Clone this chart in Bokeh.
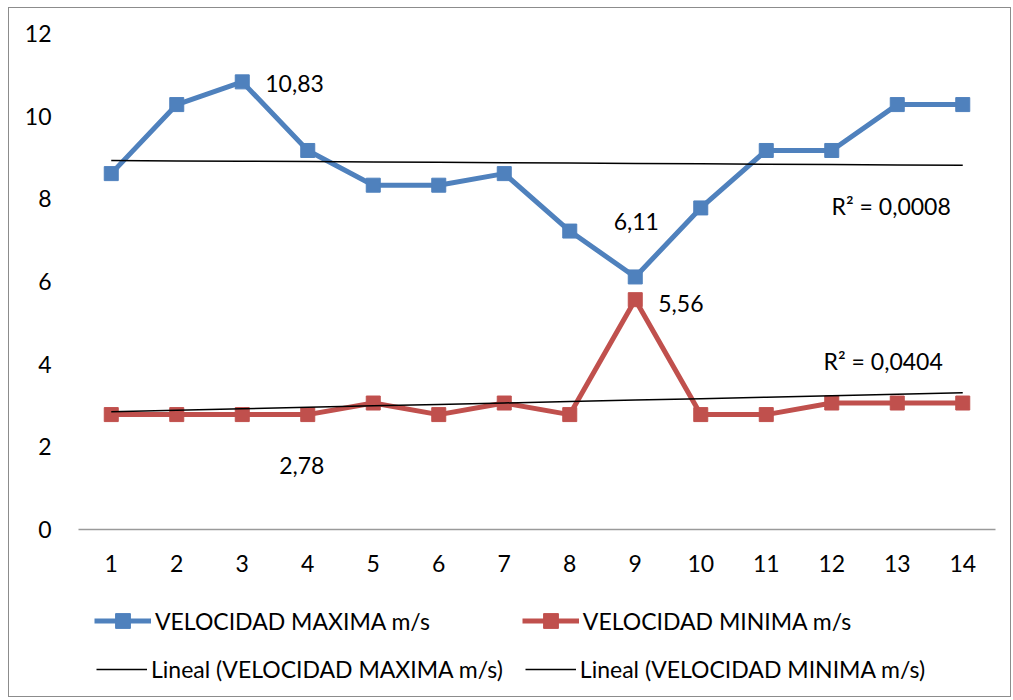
from bokeh.plotting import figure
from bokeh.models import FixedTicker, Legend, LegendItem, Label
from bokeh.layouts import column
from bokeh.embed import file_html
from bokeh.resources import INLINE
import numpy as np

muestras = list(range(1, 15))
vel_max = [8.61, 10.28, 10.83, 9.17, 8.33, 8.33, 8.61, 7.22, 6.11, 7.78, 9.17, 9.17, 10.28, 10.28]
vel_min = [2.78, 2.78, 2.78, 2.78, 3.06, 2.78, 3.06, 2.78, 5.56, 2.78, 2.78, 3.06, 3.06, 3.06]
y_ticks = [0, 2, 4, 6, 8, 10, 12]
r2_max = "R² = 0,0008"
r2_min = "R² = 0,0404"
nombres = ["VELOCIDAD MAXIMA m/s", "VELOCIDAD MINIMA m/s",
           "Lineal (VELOCIDAD MAXIMA m/s)", "Lineal (VELOCIDAD MINIMA m/s)"]

FONT = "Lato"
FS = "23px"
BLUE = "#4F81BD"
RED = "#C0504D"

p = figure(width=1001, height=590, output_backend="svg", toolbar_location=None,
           x_range=(0.5, 14.5), y_range=(0, 12),
           min_border_left=69, min_border_right=15, min_border_top=25, min_border_bottom=69)
p.outline_line_color = None
p.grid.visible = False

p.xaxis.ticker = FixedTicker(ticks=muestras)
p.yaxis.ticker = FixedTicker(ticks=y_ticks)
for ax in (p.xaxis, p.yaxis):
    ax.major_tick_line_color = None
    ax.minor_tick_line_color = None
    ax.major_label_text_font = FONT
    ax.major_label_text_font_size = FS
    ax.major_label_text_color = "black"
p.yaxis.axis_line_color = None
p.yaxis.major_label_standoff = 21
p.xaxis.axis_line_color = "#9a9a9a"
p.xaxis.axis_line_width = 1.5
p.xaxis.major_label_standoff = 19

x = np.array(muestras, dtype=float)
m1, b1 = np.polyfit(x, vel_max, 1)
m2, b2 = np.polyfit(x, vel_min, 1)
trend_max = list(m1 * x + b1)
trend_min = list(m2 * x + b2)

def series(fig):
    r1 = fig.line(muestras, vel_max, line_color=BLUE, line_width=5)
    r1m = fig.scatter(muestras, vel_max, marker="square", size=14, fill_color=BLUE, line_color=BLUE)
    r2 = fig.line(muestras, vel_min, line_color=RED, line_width=5)
    r2m = fig.scatter(muestras, vel_min, marker="square", size=14, fill_color=RED, line_color=RED)
    r3 = fig.line(muestras, trend_max, line_color="black", line_width=1.5)
    r4 = fig.line(muestras, trend_min, line_color="black", line_width=1.5)
    return r1, r1m, r2, r2m, r3, r4

series(p)

def lab(xv, yv, txt, xo, yo, align="left"):
    p.add_layout(Label(x=xv, y=yv, text=txt, x_offset=xo, y_offset=yo,
                       text_font=FONT, text_font_size=FS, text_align=align,
                       text_baseline="middle", text_color="black"))

lab(3, vel_max[2], "10,83", 23, -2)
lab(9, vel_max[8], "6,11", 1, 55, "center")
lab(9, vel_min[8], "5,56", 23, -4)
lab(4, vel_min[3], "2,78", -6, -51, "center")
lab(14, m1 * 14 + b1, r2_max, -12, -41, "right")
lab(14, m2 * 14 + b2, r2_min, -20, 32, "right")

# legend panel below the chart (same series, plotted outside its visible range)
p2 = figure(width=1001, height=98, output_backend="svg", toolbar_location=None,
            x_axis_type=None, y_axis_type=None, min_border=0,
            x_range=(100, 101), y_range=(100, 101))
p2.outline_line_color = None
p2.grid.visible = False
g1, g1m, g2, g2m, g3, g4 = series(p2)

def make_legend(items, spacing, loc, gw, gh):
    lg = Legend(items=items, orientation="horizontal", location=loc)
    lg.label_text_font = FONT
    lg.label_text_font_size = FS
    lg.label_text_color = "black"
    lg.glyph_width = gw
    lg.glyph_height = gh
    lg.label_height = 20
    lg.label_standoff = 4
    lg.spacing = spacing
    lg.padding = 0
    lg.margin = 0
    lg.border_line_color = None
    lg.background_fill_alpha = 0
    return lg

leg1 = make_legend([
    LegendItem(label=nombres[0], renderers=[g1, g1m]),
    LegendItem(label=nombres[1], renderers=[g2, g2m]),
], 92, (16, 57), 57, 37)
leg2 = make_legend([
    LegendItem(label=nombres[2], renderers=[g3]),
    LegendItem(label=nombres[3], renderers=[g4]),
], 22, (18, 13), 51, 20)
p2.add_layout(leg1)
p2.add_layout(leg2)

layout = column(p, p2, spacing=0,
                styles={"border": "1px solid #8c8c8c", "margin-left": "8px", "margin-top": "7px"})

open("out.html", "w").write(file_html(layout, INLINE))
